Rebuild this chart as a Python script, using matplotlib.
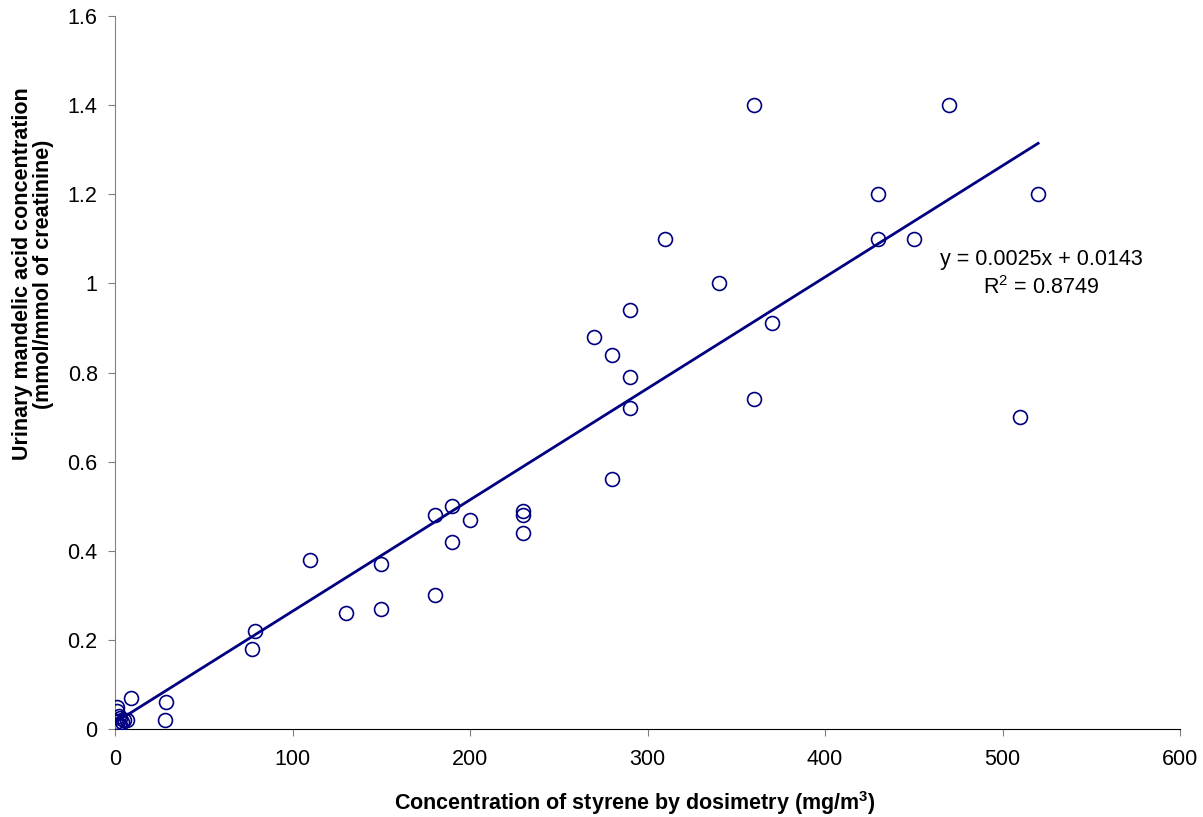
import numpy as np
import matplotlib
matplotlib.use("Agg")
import matplotlib.pyplot as plt

plt.rcParams['font.family'] = ['Liberation Sans', 'DejaVu Sans']
plt.rcParams['mathtext.fontset'] = 'custom'
plt.rcParams['mathtext.rm'] = 'Liberation Sans'
plt.rcParams['mathtext.bf'] = 'Liberation Sans:bold'

# styrene concentration (mg/m3) and mandelic acid (mmol/mmol creatinine)
styrene = [360, 470, 430, 520, 310, 430, 450, 340, 290, 370, 270, 280, 290, 360,
           290, 510, 280, 190, 230, 180, 230, 200, 230, 190, 110, 150, 180, 150,
           130, 79, 77, 9, 29, 28,
           1, 1, 2, 3, 5, 7, 0.5, 2, 4, 1, 3]
mandelic = [1.40, 1.40, 1.20, 1.20, 1.10, 1.10, 1.10, 1.00, 0.94, 0.91, 0.88, 0.84, 0.79, 0.74,
            0.72, 0.70, 0.56, 0.50, 0.49, 0.48, 0.48, 0.47, 0.44, 0.42, 0.38, 0.37, 0.30, 0.27,
            0.26, 0.22, 0.18, 0.07, 0.06, 0.02,
            0.05, 0.04, 0.03, 0.025, 0.02, 0.02, 0.015, 0.01, 0.015, 0.01, 0.01]

slope = 0.0025
intercept = 0.0143
r2 = 0.8749

navy = '#000080'
fs = 15.5

fig = plt.figure(figsize=(12.03, 8.17), dpi=100)
ax = fig.add_axes([0.0956, 0.1077, 0.8854, 0.8727])

ax.plot(styrene, mandelic, 'o', mfc='none', mec=navy, ms=10, mew=1.2, zorder=3)

xfit = np.array([min(styrene), max(styrene)])
ax.plot(xfit, slope * xfit + intercept, color=navy, lw=2.0, zorder=2)

ax.text(521.7, 1.054, "y = %.4fx + %.4f" % (slope, intercept), ha='center', va='center', fontsize=fs)
ax.text(521.7, 0.99, "R$^2$ = %.4f" % r2, ha='center', va='center', fontsize=fs)

ax.set_xlim(0, 600)
ax.set_ylim(0, 1.6)
ax.set_xticks(np.arange(0, 601, 100))
ax.set_yticks(np.arange(0, 1.61, 0.2))
ax.set_yticklabels(['0', '0.2', '0.4', '0.6', '0.8', '1', '1.2', '1.4', '1.6'])
ax.tick_params(direction='out', length=5, labelsize=fs, color='#808080')
ax.tick_params(axis='x', pad=9.4)
ax.tick_params(axis='y', pad=7.5)
for s in ['top', 'right']:
    ax.spines[s].set_visible(False)
ax.spines['left'].set_color('#808080')
ax.spines['bottom'].set_color('black')

fig.text(635 / 1203, 1 - 810 / 817, "Concentration of styrene by dosimetry (mg/m$\\mathbf{^3}$)",
         fontsize=fs, fontweight='bold', ha='center', va='baseline')
fig.text(33 / 1203, 1 - 274 / 817, "Urinary mandelic acid concentration\n(mmol/mmol of creatinine)",
         fontsize=fs, fontweight='bold', ha='center', va='center', rotation=90, linespacing=1.05)

plt.savefig("out.png", dpi=100)
